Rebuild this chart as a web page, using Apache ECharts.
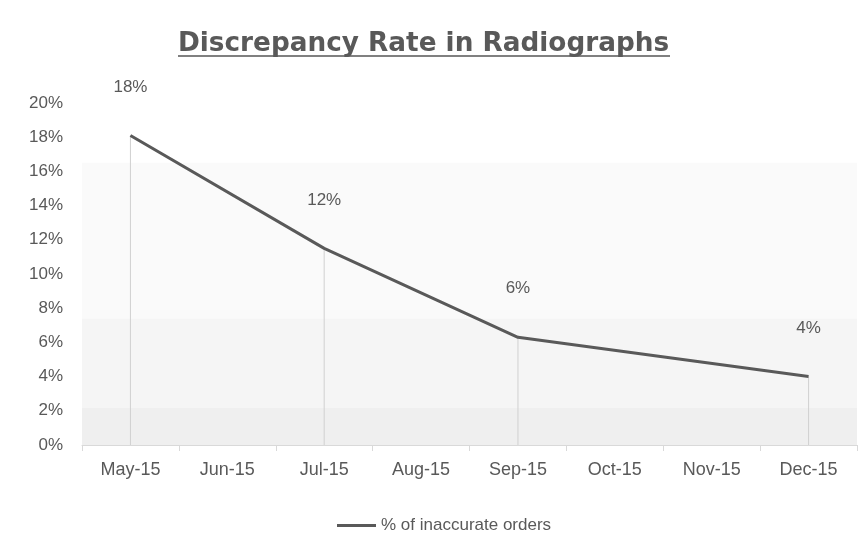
<!DOCTYPE html>
<html>
<head>
<meta charset="utf-8">
<script src="https://cdn.jsdelivr.net/npm/echarts@6/dist/echarts.min.js"></script>
<style>html,body{margin:0;padding:0;background:#fff;}#c{width:867px;height:545px;}</style>
</head>
<body>
<div id="c"></div>
<script>
const categories = ['May-15','Jun-15','Jul-15','Aug-15','Sep-15','Oct-15','Nov-15','Dec-15'];
const values = [18.1, null, 11.5, null, 6.3, null, null, 4.0];
const seriesName = '% of inaccurate orders';
const titleText = 'Discrepancy Rate in Radiographs';

const FONT = 'Liberation Sans, Arial, sans-serif';
const TXT = '#595959';
const chart = echarts.init(document.getElementById('c'), null, {renderer: 'canvas'});
chart.setOption({
  backgroundColor: '#ffffff',
  animation: false,
  title: {
    text: titleText,
    left: 173, top: 26, padding: [5, 5, 5, 5],
    textStyle: {fontFamily: 'DejaVu Sans, sans-serif', fontSize: 26.3, fontWeight: 'bold', color: TXT}
  },
  graphic: [{
    type: 'rect', left: 178, top: 55, shape: {width: 492, height: 2}, style: {fill: '#808080'}
  }],
  legend: {
    data: [{name: seriesName, icon: 'rect'}],
    left: 332, top: 512,
    itemWidth: 39, itemHeight: 3, itemGap: 5,
    textStyle: {fontFamily: FONT, fontSize: 17, color: TXT}
  },
  grid: {left: 82, right: 10, top: 103, bottom: 100},
  xAxis: {
    type: 'category', data: categories, boundaryGap: true,
    axisLine: {lineStyle: {color: '#d9d9d9', width: 1}},
    axisTick: {show: true, length: 6, lineStyle: {color: '#d9d9d9'}},
    axisLabel: {fontFamily: FONT, fontSize: 18, color: TXT, margin: 16},
    splitLine: {show: false}
  },
  yAxis: {
    type: 'value', min: 0, max: 20, interval: 2,
    axisLine: {show: false}, axisTick: {show: false},
    axisLabel: {fontFamily: FONT, fontSize: 17, color: TXT, margin: 19, formatter: '{value}%'},
    splitLine: {show: false}
  },
  series: [
    {
      type: 'bar', name: 'drop', data: values, barWidth: 1, silent: true,
      itemStyle: {color: '#d0d0d0'}, z: 1,
      label: {
        show: true, position: 'top', distance: 40,
        fontFamily: FONT, fontSize: 17, color: TXT,
        formatter: p => Math.round(p.value) + '%'
      }
    },
    {
      type: 'line', name: seriesName, data: values, connectNulls: true,
      showSymbol: false, symbol: 'none',
      lineStyle: {color: '#595959', width: 3},
      itemStyle: {color: '#595959'},
      z: 3,
      markArea: {
        silent: true,
        data: [
          [{yAxis: 7.4, itemStyle: {color: '#fafafa'}}, {yAxis: 16.5}],
          [{yAxis: 2.2, itemStyle: {color: '#f5f5f5'}}, {yAxis: 7.4}],
          [{yAxis: 0, itemStyle: {color: '#efefef'}}, {yAxis: 2.2}]
        ]
      }
    }
  ]
});
</script>
</body>
</html>
